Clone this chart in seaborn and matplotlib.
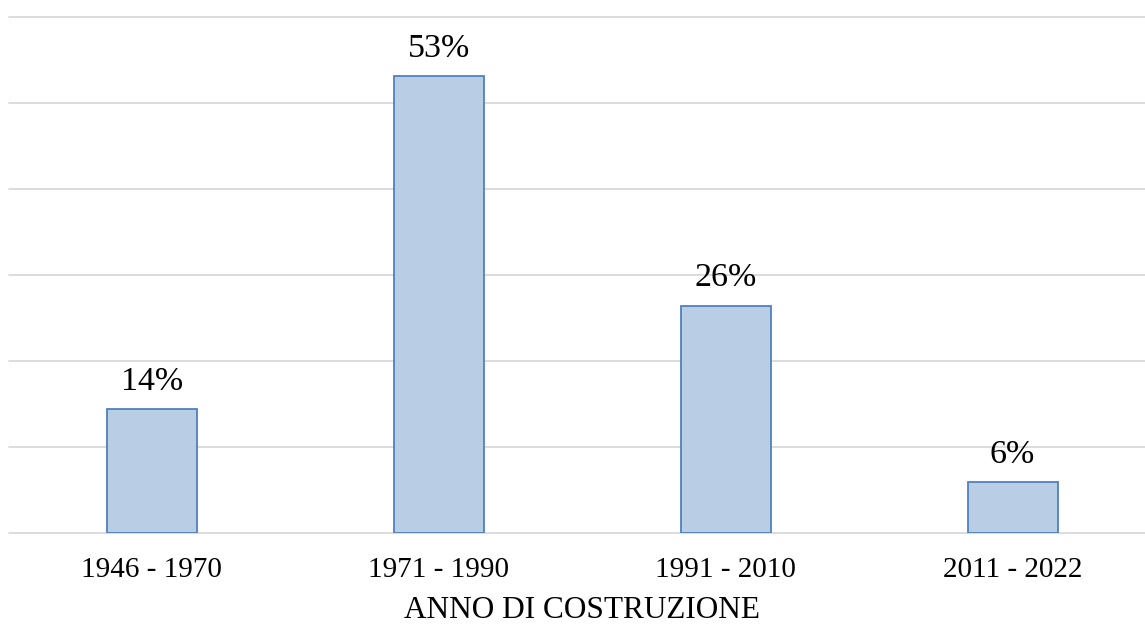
import matplotlib
matplotlib.use("Agg")
import matplotlib.pyplot as plt
import seaborn as sns
import pandas as pd

categories = ["1946 - 1970", "1971 - 1990", "1991 - 2010", "2011 - 2022"]
values = [14.4, 53.1, 26.4, 5.9]
labels = ["14%", "53%", "26%", "6%"]

df = pd.DataFrame({"periodo": categories, "valore": values})

sns.set_theme(style="white")
plt.rcParams["font.family"] = ["Liberation Serif", "DejaVu Serif"]

W, H = 1145, 626
fig = plt.figure(figsize=(W / 100, H / 100), dpi=100)
left, right = 8.5, 1156
bottom, top = 533, 17
ax = fig.add_axes([left / W, (H - bottom) / H, (right - left) / W, (bottom - top) / H])

sns.barplot(data=df, x="periodo", y="valore", ax=ax, width=0.314,
            color="#B9CDE5", saturation=1, edgecolor="#4F81BD", linewidth=1.3, zorder=3)

ax.set_ylim(0, 60)
ax.set_xlim(-0.5, 3.5)
ax.set_yticks(range(0, 61, 10))
ax.yaxis.grid(True, color="#D9D9D9", linewidth=1.3, zorder=0)
for gl in ax.get_ygridlines():
    gl.set_clip_on(False)
ax.set_axisbelow(True)
ax.tick_params(axis="y", left=False, labelleft=False)
ax.tick_params(axis="x", bottom=False, labelsize=21, pad=11, colors="black")
for s in ax.spines.values():
    s.set_visible(False)

for i, (v, lab) in enumerate(zip(values, labels)):
    ax.annotate(lab, (i, v), xytext=(0, 9), textcoords="offset points",
                ha="center", va="bottom", fontsize=24.5, color="black")

ax.set_xlabel("ANNO DI COSTRUZIONE", fontsize=22.5, color="black", labelpad=10)
ax.set_ylabel("")

fig.savefig("out.png", dpi=100)
